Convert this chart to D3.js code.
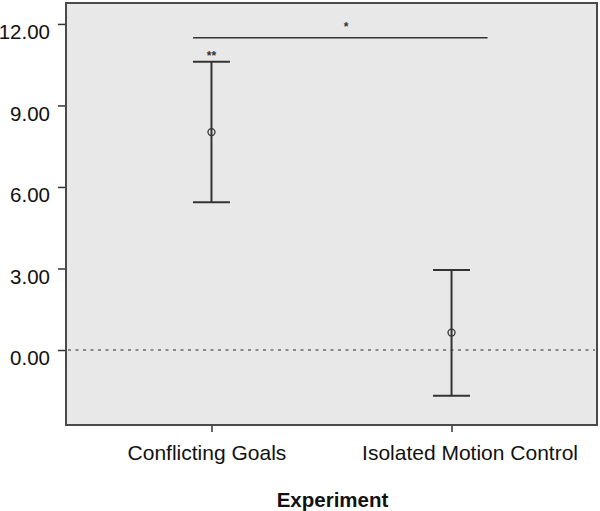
<!DOCTYPE html>
<html>
<head>
<meta charset="utf-8">
<script src="https://cdn.jsdelivr.net/npm/d3@7"></script>
<style>
  body { margin: 0; background: #fff; }
  text { font-family: "Liberation Sans", Arial, sans-serif; }
</style>
</head>
<body>
<svg id="chart" width="600" height="511"></svg>
<script>
// data
let categories = ["Conflicting Goals", "Isolated Motion Control"]
let means = [8.02, 0.64]
let upper = [10.61, 2.94]
let lower = [5.44, -1.68]
let yTicks = [0, 3, 6, 9, 12]
let sigLineValue = 11.49

let svg = d3.select("#chart")

let plot = { left: 66, right: 597, top: 3, bottom: 425 }

let x = d3.scalePoint()
    .domain(categories)
    .range([plot.left, plot.right])
    .padding(0.606)

let y = d3.scaleLinear()
    .domain([-2.76, 12.77])
    .range([plot.bottom, plot.top])

// plot background
svg.append("rect")
    .attr("x", plot.left)
    .attr("y", plot.top)
    .attr("width", plot.right - plot.left)
    .attr("height", plot.bottom - plot.top)
    .attr("fill", "#e8e8e8")
    .attr("stroke", "#4a4a4a")
    .attr("stroke-width", 2)

// y axis
let yAxis = d3.axisLeft(y)
    .tickValues(yTicks)
    .tickSize(7)
    .tickFormat(d3.format(".2f"))

let gy = svg.append("g")
    .attr("transform", `translate(${plot.left - 1},0)`)
    .call(yAxis)
gy.select(".domain").remove()
gy.selectAll(".tick line").attr("stroke", "#333").attr("stroke-width", 1.5)
gy.selectAll(".tick text")
    .attr("x", -15)
    .attr("dy", "0.72em")
    .attr("fill", "#111")
    .style("font-size", "20.5px")
    .style("font-family", "'Liberation Sans', Arial, sans-serif")

// x axis
let labelShift = [-5, 18]
let xAxis = d3.axisBottom(x).tickSize(6)
let gx = svg.append("g")
    .attr("transform", `translate(0,${plot.bottom + 1})`)
    .call(xAxis)
gx.select(".domain").remove()
gx.selectAll(".tick line").attr("stroke", "#333").attr("stroke-width", 1.5)
gx.selectAll(".tick text")
    .attr("x", (d, i) => labelShift[i])
    .attr("y", 19)
    .attr("dy", "0.71em")
    .attr("fill", "#111")
    .style("font-size", "21px")
    .style("font-family", "'Liberation Sans', Arial, sans-serif")

// x axis title
svg.append("text")
    .attr("x", 332.5)
    .attr("y", 507)
    .attr("text-anchor", "middle")
    .attr("font-weight", "bold")
    .attr("font-size", "20.5px")
    .attr("fill", "#111")
    .text("Experiment")

// reference line at zero
svg.append("line")
    .attr("x1", plot.left + 2)
    .attr("x2", plot.right - 2)
    .attr("y1", y(0))
    .attr("y2", y(0))
    .attr("stroke", "#6a6a6a")
    .attr("stroke-width", 1.5)
    .attr("stroke-dasharray", "3,4.5")

// error bars
let capHalf = 18.5
let bars = svg.append("g")
categories.forEach((c, i) => {
    let cx = x(c)
    bars.append("line")
        .attr("x1", cx).attr("x2", cx)
        .attr("y1", y(upper[i])).attr("y2", y(lower[i]))
        .attr("stroke", "#333").attr("stroke-width", 2)
    ;[upper[i], lower[i]].forEach(v => {
        bars.append("line")
            .attr("x1", cx - capHalf).attr("x2", cx + capHalf)
            .attr("y1", y(v)).attr("y2", y(v))
            .attr("stroke", "#333").attr("stroke-width", 2)
    })
    bars.append("circle")
        .attr("cx", cx)
        .attr("cy", y(means[i]))
        .attr("r", 3.5)
        .attr("fill", "none")
        .attr("stroke", "#333")
        .attr("stroke-width", 1.3)
})

// significance annotations
svg.append("line")
    .attr("x1", x(categories[0]) - capHalf)
    .attr("x2", x(categories[1]) + 36)
    .attr("y1", y(sigLineValue))
    .attr("y2", y(sigLineValue))
    .attr("stroke", "#333")
    .attr("stroke-width", 1.5)

svg.append("text")
    .attr("x", 346)
    .attr("y", y(sigLineValue) - 7)
    .attr("text-anchor", "middle")
    .attr("font-size", "12px")
    .attr("font-weight", "bold")
    .attr("fill", "#333")
    .text("*")

svg.append("text")
    .attr("x", x(categories[0]))
    .attr("y", y(upper[0]) - 2)
    .attr("text-anchor", "middle")
    .attr("font-size", "12px")
    .attr("font-weight", "bold")
    .attr("fill", "#333")
    .text("**")
</script>
</body>
</html>
